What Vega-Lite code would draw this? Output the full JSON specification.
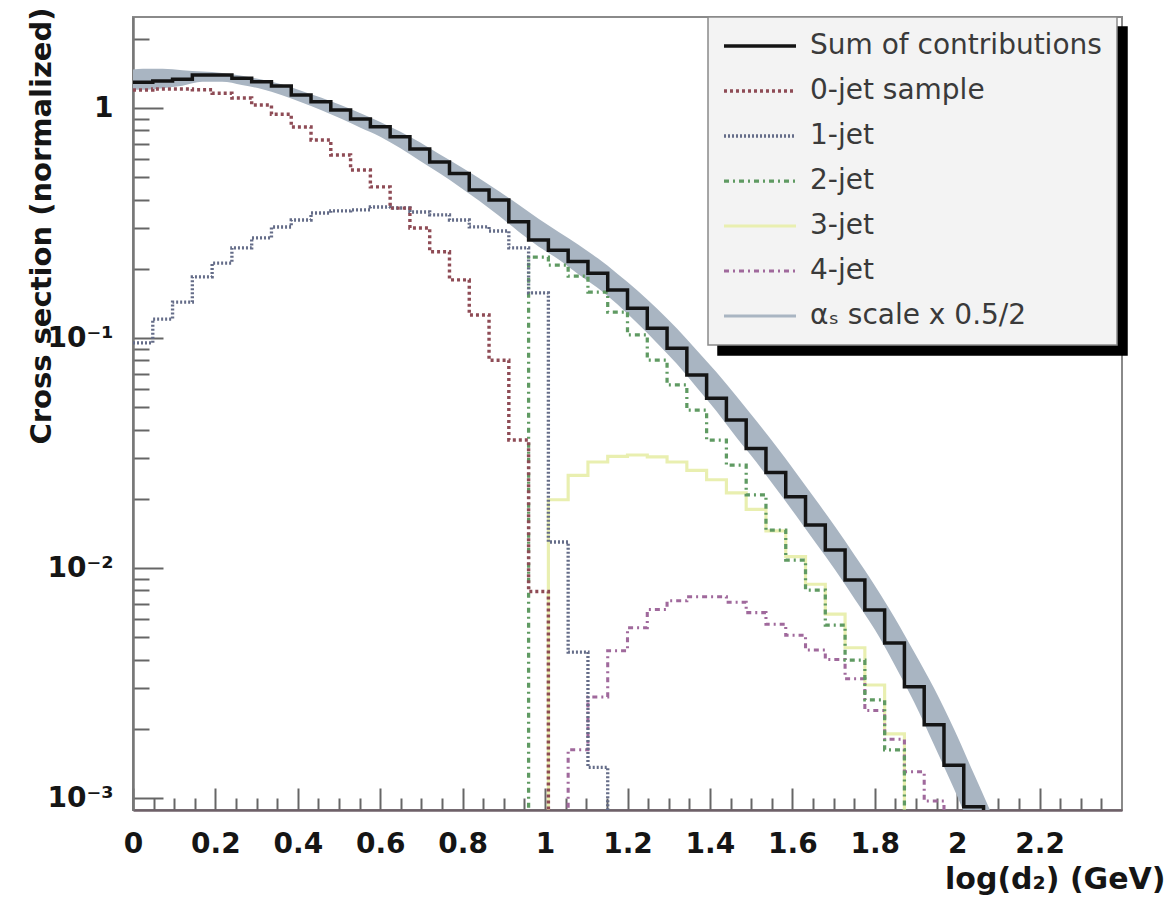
{
  "$schema": "https://vega.github.io/schema/vega-lite/v6.json",
  "width": 989,
  "height": 793,
  "padding": {"left": 133, "top": 17, "right": 54, "bottom": 95},
  "autosize": {"type": "none"},
  "background": "white",
  "config": {
    "view": {"stroke": "#8a8a8a", "strokeWidth": 2},
    "axis": {"grid": false, "labelFont": "DejaVu Sans", "titleFont": "DejaVu Sans"},
    "legend": {
      "orient": "none", "legendX": 575, "legendY": 0, "direction": "vertical",
      "fillColor": "#f3f3f3", "strokeColor": "#8a8a8a", "strokeWidth": 1.5,
      "padding": 15, "symbolType": "M-3.6,0H3.6", "symbolSize": 400, "symbolOffset": 23,
      "labelFont": "DejaVu Sans", "labelFontSize": 28, "labelColor": "#3a3a3a",
      "labelLimit": 500, "labelOffset": 36, "rowPadding": 17
    }
  },
  "datasets": {
    "band": [
      {"x": 0.0, "lo": 1.2, "hi": 1.47},
      {"x": 0.024, "lo": 1.2, "hi": 1.48},
      {"x": 0.072, "lo": 1.22, "hi": 1.48},
      {"x": 0.12, "lo": 1.25, "hi": 1.46},
      {"x": 0.168, "lo": 1.3, "hi": 1.44},
      {"x": 0.216, "lo": 1.3, "hi": 1.42},
      {"x": 0.264, "lo": 1.26, "hi": 1.38},
      {"x": 0.312, "lo": 1.21, "hi": 1.33},
      {"x": 0.36, "lo": 1.14, "hi": 1.27},
      {"x": 0.408, "lo": 1.06, "hi": 1.19},
      {"x": 0.456, "lo": 0.98, "hi": 1.11},
      {"x": 0.504, "lo": 0.9, "hi": 1.03},
      {"x": 0.552, "lo": 0.82, "hi": 0.95},
      {"x": 0.6, "lo": 0.75, "hi": 0.87},
      {"x": 0.648, "lo": 0.67, "hi": 0.79},
      {"x": 0.696, "lo": 0.59, "hi": 0.71},
      {"x": 0.744, "lo": 0.52, "hi": 0.63},
      {"x": 0.792, "lo": 0.455, "hi": 0.56},
      {"x": 0.84, "lo": 0.395, "hi": 0.495},
      {"x": 0.888, "lo": 0.34, "hi": 0.435},
      {"x": 0.936, "lo": 0.29, "hi": 0.38},
      {"x": 0.984, "lo": 0.25, "hi": 0.33},
      {"x": 1.032, "lo": 0.22, "hi": 0.29},
      {"x": 1.08, "lo": 0.19, "hi": 0.255},
      {"x": 1.128, "lo": 0.165, "hi": 0.222},
      {"x": 1.176, "lo": 0.14, "hi": 0.19},
      {"x": 1.224, "lo": 0.116, "hi": 0.161},
      {"x": 1.272, "lo": 0.095, "hi": 0.134},
      {"x": 1.32, "lo": 0.077, "hi": 0.11},
      {"x": 1.368, "lo": 0.061, "hi": 0.0885},
      {"x": 1.416, "lo": 0.048, "hi": 0.071},
      {"x": 1.464, "lo": 0.037, "hi": 0.056},
      {"x": 1.512, "lo": 0.029, "hi": 0.0438},
      {"x": 1.56, "lo": 0.0222, "hi": 0.034},
      {"x": 1.608, "lo": 0.017, "hi": 0.0261},
      {"x": 1.656, "lo": 0.0129, "hi": 0.0199},
      {"x": 1.704, "lo": 0.0098, "hi": 0.0151},
      {"x": 1.752, "lo": 0.0073, "hi": 0.0113},
      {"x": 1.8, "lo": 0.0054, "hi": 0.0084},
      {"x": 1.848, "lo": 0.0038, "hi": 0.0061},
      {"x": 1.896, "lo": 0.0026, "hi": 0.0043},
      {"x": 1.944, "lo": 0.0017, "hi": 0.003},
      {"x": 1.992, "lo": 0.0011, "hi": 0.002},
      {"x": 2.04, "lo": 0.0007, "hi": 0.00128},
      {"x": 2.088, "lo": 0.0005, "hi": 0.00082}
    ],
    "lines": [
      {"s": "3-jet", "x": 0.96, "y": 0.0001},
      {"s": "3-jet", "x": 1.008, "y": 0.0198},
      {"s": "3-jet", "x": 1.056, "y": 0.0253},
      {"s": "3-jet", "x": 1.104, "y": 0.0289},
      {"s": "3-jet", "x": 1.152, "y": 0.0306},
      {"s": "3-jet", "x": 1.2, "y": 0.031},
      {"s": "3-jet", "x": 1.248, "y": 0.0304},
      {"s": "3-jet", "x": 1.296, "y": 0.0289},
      {"s": "3-jet", "x": 1.344, "y": 0.0266},
      {"s": "3-jet", "x": 1.392, "y": 0.0242},
      {"s": "3-jet", "x": 1.44, "y": 0.0212},
      {"s": "3-jet", "x": 1.488, "y": 0.018},
      {"s": "3-jet", "x": 1.536, "y": 0.0145},
      {"s": "3-jet", "x": 1.584, "y": 0.0112},
      {"s": "3-jet", "x": 1.632, "y": 0.0085},
      {"s": "3-jet", "x": 1.68, "y": 0.0063},
      {"s": "3-jet", "x": 1.728, "y": 0.0045},
      {"s": "3-jet", "x": 1.776, "y": 0.0031},
      {"s": "3-jet", "x": 1.824, "y": 0.0019},
      {"s": "3-jet", "x": 1.872, "y": 0.0001},

      {"s": "4-jet", "x": 1.008, "y": 0.0001},
      {"s": "4-jet", "x": 1.056, "y": 0.00162},
      {"s": "4-jet", "x": 1.104, "y": 0.00275},
      {"s": "4-jet", "x": 1.152, "y": 0.00437},
      {"s": "4-jet", "x": 1.2, "y": 0.0055},
      {"s": "4-jet", "x": 1.248, "y": 0.0066},
      {"s": "4-jet", "x": 1.296, "y": 0.0072},
      {"s": "4-jet", "x": 1.344, "y": 0.0075},
      {"s": "4-jet", "x": 1.392, "y": 0.0075},
      {"s": "4-jet", "x": 1.44, "y": 0.0071},
      {"s": "4-jet", "x": 1.488, "y": 0.0064},
      {"s": "4-jet", "x": 1.536, "y": 0.0057},
      {"s": "4-jet", "x": 1.584, "y": 0.0051},
      {"s": "4-jet", "x": 1.632, "y": 0.0044},
      {"s": "4-jet", "x": 1.68, "y": 0.004},
      {"s": "4-jet", "x": 1.728, "y": 0.0033},
      {"s": "4-jet", "x": 1.776, "y": 0.0024},
      {"s": "4-jet", "x": 1.824, "y": 0.0018},
      {"s": "4-jet", "x": 1.872, "y": 0.0013},
      {"s": "4-jet", "x": 1.92, "y": 0.00097},
      {"s": "4-jet", "x": 1.968, "y": 0.0001},

      {"s": "2-jet", "x": 0.912, "y": 0.0001},
      {"s": "2-jet", "x": 0.96, "y": 0.225},
      {"s": "2-jet", "x": 1.008, "y": 0.2077},
      {"s": "2-jet", "x": 1.056, "y": 0.186},
      {"s": "2-jet", "x": 1.104, "y": 0.1585},
      {"s": "2-jet", "x": 1.152, "y": 0.1297},
      {"s": "2-jet", "x": 1.2, "y": 0.1031},
      {"s": "2-jet", "x": 1.248, "y": 0.0802},
      {"s": "2-jet", "x": 1.296, "y": 0.0625},
      {"s": "2-jet", "x": 1.344, "y": 0.0486},
      {"s": "2-jet", "x": 1.392, "y": 0.036},
      {"s": "2-jet", "x": 1.44, "y": 0.028},
      {"s": "2-jet", "x": 1.488, "y": 0.0208},
      {"s": "2-jet", "x": 1.536, "y": 0.01463},
      {"s": "2-jet", "x": 1.584, "y": 0.01083},
      {"s": "2-jet", "x": 1.632, "y": 0.00802},
      {"s": "2-jet", "x": 1.68, "y": 0.00565},
      {"s": "2-jet", "x": 1.728, "y": 0.00398},
      {"s": "2-jet", "x": 1.776, "y": 0.00267},
      {"s": "2-jet", "x": 1.824, "y": 0.00162},
      {"s": "2-jet", "x": 1.872, "y": 0.0001},

      {"s": "1-jet", "x": 0.0, "y": 0.0952},
      {"s": "1-jet", "x": 0.048, "y": 0.1209},
      {"s": "1-jet", "x": 0.096, "y": 0.1433},
      {"s": "1-jet", "x": 0.144, "y": 0.1844},
      {"s": "1-jet", "x": 0.192, "y": 0.2118},
      {"s": "1-jet", "x": 0.24, "y": 0.2465},
      {"s": "1-jet", "x": 0.288, "y": 0.2723},
      {"s": "1-jet", "x": 0.336, "y": 0.3039},
      {"s": "1-jet", "x": 0.384, "y": 0.326},
      {"s": "1-jet", "x": 0.432, "y": 0.3497},
      {"s": "1-jet", "x": 0.48, "y": 0.3568},
      {"s": "1-jet", "x": 0.528, "y": 0.3604},
      {"s": "1-jet", "x": 0.576, "y": 0.3713},
      {"s": "1-jet", "x": 0.624, "y": 0.3676},
      {"s": "1-jet", "x": 0.672, "y": 0.3532},
      {"s": "1-jet", "x": 0.72, "y": 0.343},
      {"s": "1-jet", "x": 0.768, "y": 0.326},
      {"s": "1-jet", "x": 0.816, "y": 0.304},
      {"s": "1-jet", "x": 0.864, "y": 0.292},
      {"s": "1-jet", "x": 0.912, "y": 0.2465},
      {"s": "1-jet", "x": 0.96, "y": 0.157},
      {"s": "1-jet", "x": 1.008, "y": 0.01297},
      {"s": "1-jet", "x": 1.056, "y": 0.00431},
      {"s": "1-jet", "x": 1.104, "y": 0.00136},
      {"s": "1-jet", "x": 1.152, "y": 0.0001},

      {"s": "0-jet sample", "x": 0.0, "y": 1.197},
      {"s": "0-jet sample", "x": 0.048, "y": 1.21},
      {"s": "0-jet sample", "x": 0.096, "y": 1.21},
      {"s": "0-jet sample", "x": 0.144, "y": 1.2},
      {"s": "0-jet sample", "x": 0.192, "y": 1.16},
      {"s": "0-jet sample", "x": 0.24, "y": 1.105},
      {"s": "0-jet sample", "x": 0.288, "y": 1.03},
      {"s": "0-jet sample", "x": 0.336, "y": 0.94},
      {"s": "0-jet sample", "x": 0.384, "y": 0.827},
      {"s": "0-jet sample", "x": 0.432, "y": 0.726},
      {"s": "0-jet sample", "x": 0.48, "y": 0.625},
      {"s": "0-jet sample", "x": 0.528, "y": 0.538},
      {"s": "0-jet sample", "x": 0.576, "y": 0.454},
      {"s": "0-jet sample", "x": 0.624, "y": 0.367},
      {"s": "0-jet sample", "x": 0.672, "y": 0.301},
      {"s": "0-jet sample", "x": 0.72, "y": 0.237},
      {"s": "0-jet sample", "x": 0.768, "y": 0.179},
      {"s": "0-jet sample", "x": 0.816, "y": 0.126},
      {"s": "0-jet sample", "x": 0.864, "y": 0.08},
      {"s": "0-jet sample", "x": 0.912, "y": 0.036},
      {"s": "0-jet sample", "x": 0.96, "y": 0.0079},
      {"s": "0-jet sample", "x": 1.008, "y": 0.0001},

      {"s": "Sum of contributions", "x": 0.0, "y": 1.293},
      {"s": "Sum of contributions", "x": 0.048, "y": 1.31},
      {"s": "Sum of contributions", "x": 0.096, "y": 1.333},
      {"s": "Sum of contributions", "x": 0.144, "y": 1.391},
      {"s": "Sum of contributions", "x": 0.192, "y": 1.391},
      {"s": "Sum of contributions", "x": 0.24, "y": 1.346},
      {"s": "Sum of contributions", "x": 0.288, "y": 1.301},
      {"s": "Sum of contributions", "x": 0.336, "y": 1.246},
      {"s": "Sum of contributions", "x": 0.384, "y": 1.139},
      {"s": "Sum of contributions", "x": 0.432, "y": 1.065},
      {"s": "Sum of contributions", "x": 0.48, "y": 0.98},
      {"s": "Sum of contributions", "x": 0.528, "y": 0.896},
      {"s": "Sum of contributions", "x": 0.576, "y": 0.829},
      {"s": "Sum of contributions", "x": 0.624, "y": 0.75},
      {"s": "Sum of contributions", "x": 0.672, "y": 0.663},
      {"s": "Sum of contributions", "x": 0.72, "y": 0.582},
      {"s": "Sum of contributions", "x": 0.768, "y": 0.519},
      {"s": "Sum of contributions", "x": 0.816, "y": 0.44},
      {"s": "Sum of contributions", "x": 0.864, "y": 0.398},
      {"s": "Sum of contributions", "x": 0.912, "y": 0.32},
      {"s": "Sum of contributions", "x": 0.96, "y": 0.267},
      {"s": "Sum of contributions", "x": 1.008, "y": 0.241},
      {"s": "Sum of contributions", "x": 1.056, "y": 0.215},
      {"s": "Sum of contributions", "x": 1.104, "y": 0.191},
      {"s": "Sum of contributions", "x": 1.152, "y": 0.1617},
      {"s": "Sum of contributions", "x": 1.2, "y": 0.1346},
      {"s": "Sum of contributions", "x": 1.248, "y": 0.1102},
      {"s": "Sum of contributions", "x": 1.296, "y": 0.0902},
      {"s": "Sum of contributions", "x": 1.344, "y": 0.069},
      {"s": "Sum of contributions", "x": 1.392, "y": 0.0547},
      {"s": "Sum of contributions", "x": 1.44, "y": 0.044},
      {"s": "Sum of contributions", "x": 1.488, "y": 0.0331},
      {"s": "Sum of contributions", "x": 1.536, "y": 0.026},
      {"s": "Sum of contributions", "x": 1.584, "y": 0.0204},
      {"s": "Sum of contributions", "x": 1.632, "y": 0.01538},
      {"s": "Sum of contributions", "x": 1.68, "y": 0.01198},
      {"s": "Sum of contributions", "x": 1.728, "y": 0.00887},
      {"s": "Sum of contributions", "x": 1.776, "y": 0.00657},
      {"s": "Sum of contributions", "x": 1.824, "y": 0.00472},
      {"s": "Sum of contributions", "x": 1.872, "y": 0.00305},
      {"s": "Sum of contributions", "x": 1.92, "y": 0.00208},
      {"s": "Sum of contributions", "x": 1.968, "y": 0.00139},
      {"s": "Sum of contributions", "x": 2.016, "y": 0.000917},
      {"s": "Sum of contributions", "x": 2.064, "y": 0.0001}
    ]
  },
  "layer": [
    {
      "data": {"name": "band"},
      "mark": {"type": "area", "interpolate": "monotone", "color": "#a9b5c2", "clip": true},
      "encoding": {
        "x": {
          "field": "x", "type": "quantitative",
          "scale": {"domain": [0, 2.4], "nice": false, "zero": false},
          "axis": {
            "orient": "bottom", "title": null, "labels": false, "domain": false,
            "values": [0.05, 0.1, 0.15, 0.25, 0.3, 0.35, 0.45, 0.5, 0.55, 0.65, 0.7, 0.75, 0.85, 0.9, 0.95, 1.05, 1.1, 1.15, 1.25, 1.3, 1.35, 1.45, 1.5, 1.55, 1.65, 1.7, 1.75, 1.85, 1.9, 1.95, 2.05, 2.1, 2.15, 2.25, 2.3, 2.35],
            "tickSize": -12, "tickWidth": 2, "tickColor": "#666"
          }
        },
        "y": {
          "field": "hi", "type": "quantitative",
          "scale": {"type": "log", "domain": [0.000887, 2.487], "nice": false},
          "axis": {
            "orient": "left", "title": null, "labels": false, "domain": false,
            "values": [0.002, 0.003, 0.004, 0.005, 0.006, 0.007, 0.008, 0.009, 0.02, 0.03, 0.04, 0.05, 0.06, 0.07, 0.08, 0.09, 0.2, 0.3, 0.4, 0.5, 0.6, 0.7, 0.8, 0.9, 2],
            "tickSize": -16, "tickWidth": 2, "tickColor": "#666"
          }
        },
        "y2": {"field": "lo"}
      }
    },
    {
      "data": {"name": "lines"},
      "mark": {"type": "point", "opacity": 0},
      "encoding": {
        "x": {"field": "x", "type": "quantitative", "axis": null},
        "y": {"field": "y", "type": "quantitative", "axis": null},
        "shape": {
          "field": "s", "type": "nominal", "title": null,
          "scale": {
            "domain": ["αₛ scale x 0.5/2", "4-jet", "3-jet", "2-jet", "1-jet", "0-jet sample", "Sum of contributions"],
            "range": ["M-3.6,0H3.6", "M-3.6,0H3.6", "M-3.6,0H3.6", "M-3.6,0H3.6", "M-3.6,0H3.6", "M-3.6,0H3.6", "M-3.6,0H3.6"]
          },
          "legend": {
            "legendX": 585, "legendY": 10, "fillColor": "#000000", "strokeColor": "#000000",
            "labelExpr": "''", "labelOffset": 328,
            "symbolStrokeColor": "#000000", "symbolFillColor": "#000000",
            "symbolOpacity": 1, "zindex": 0
          }
        }
      }
    },
    {
      "data": {"name": "lines"},
      "mark": {"type": "line", "interpolate": "step-after", "clip": true},
      "encoding": {
        "x": {
          "field": "x", "type": "quantitative",
          "axis": {
            "orient": "bottom", "values": [0, 0.2, 0.4, 0.6, 0.8, 1, 1.2, 1.4, 1.6, 1.8, 2, 2.2],
            "format": "~g", "tickSize": -22, "tickWidth": 2, "tickColor": "#666",
            "domainColor": "#6e6068", "domainWidth": 2.5,
            "labelFontWeight": "bold", "labelFontSize": 28, "labelColor": "#151515",
            "labelPadding": 42, "labelFlush": false, "labelOverlap": false,
            "title": "log(d₂) (GeV)", "titleFontWeight": "bold", "titleFontSize": 30,
            "titleColor": "#151515", "titleX": 1032, "titleY": 78,
            "titleAlign": "right", "titleBaseline": "alphabetic", "titleAnchor": null
          }
        },
        "y": {
          "field": "y", "type": "quantitative",
          "axis": {
            "orient": "left", "values": [0.001, 0.01, 0.1, 1],
            "labelExpr": "datum.value > 0.5 ? '1' : datum.value > 0.05 ? '10⁻¹' : datum.value > 0.005 ? '10⁻²' : '10⁻³'",
            "tickSize": -30, "tickWidth": 2, "tickColor": "#666",
            "domainColor": "#777", "domainWidth": 2.5,
            "labelFontWeight": "bold", "labelFontSize": 28, "labelColor": "#151515",
            "labelPadding": 50, "labelFlush": false, "labelOverlap": false,
            "title": "Cross section (normalized)", "titleFontWeight": "bold", "titleFontSize": 29,
            "titleColor": "#151515", "titleX": -92, "titleY": -10, "titleAngle": -90,
            "titleAlign": "right", "titleBaseline": "middle", "titleAnchor": null
          }
        },
        "color": {
          "field": "s", "type": "nominal", "title": null,
          "scale": {
            "domain": ["Sum of contributions", "0-jet sample", "1-jet", "2-jet", "3-jet", "4-jet", "αₛ scale x 0.5/2"],
            "range": ["#141414", "#8e4b55", "#646c88", "#5f9a62", "#e9efb0", "#a0699c", "#a9b5c2"]
          },
          "legend": {"zindex": 2}
        },
        "strokeDash": {
          "field": "s", "type": "nominal", "title": null,
          "scale": {
            "domain": ["Sum of contributions", "0-jet sample", "1-jet", "2-jet", "3-jet", "4-jet", "αₛ scale x 0.5/2"],
            "range": [[1, 0], [3, 3], [2, 2], [5, 4, 2, 4], [1, 0], [5, 4, 2, 4], [1, 0]]
          },
          "legend": {"zindex": 2}
        },
        "strokeWidth": {
          "field": "s", "type": "nominal", "title": null,
          "scale": {
            "domain": ["Sum of contributions", "0-jet sample", "1-jet", "2-jet", "3-jet", "4-jet", "αₛ scale x 0.5/2"],
            "range": [3.5, 3, 1.6, 2, 3.5, 2, 10]
          },
          "legend": {"zindex": 2}
        }
      }
    }
  ],
  "resolve": {"axis": {"x": "independent", "y": "independent"}}
}
